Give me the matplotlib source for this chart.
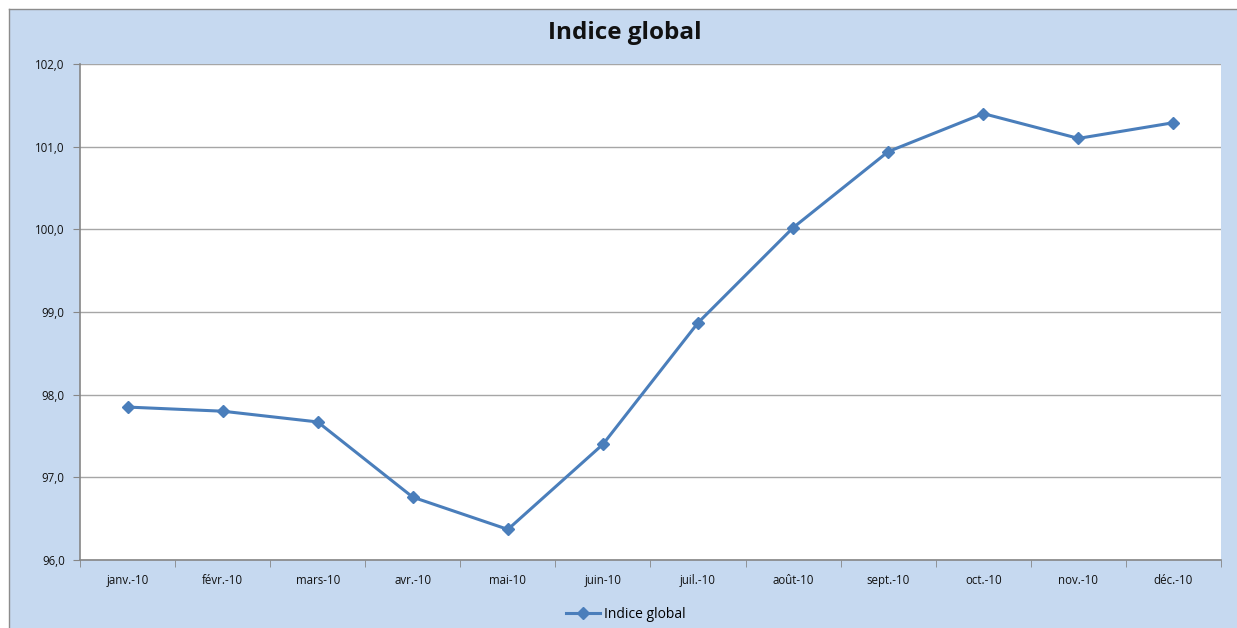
import matplotlib
matplotlib.use("Agg")
import matplotlib.pyplot as plt
from matplotlib.patches import Rectangle
from matplotlib.lines import Line2D
from matplotlib.ticker import FixedLocator, FuncFormatter

months = ["janv.-10", "févr.-10", "mars-10", "avr.-10", "mai-10", "juin-10",
          "juil.-10", "août-10", "sept.-10", "oct.-10", "nov.-10", "déc.-10"]
indice_global = [97.85, 97.80, 97.67, 96.76, 96.37, 97.40,
                 98.87, 100.02, 100.94, 101.40, 101.10, 101.29]
y_ticks = [96.0, 97.0, 98.0, 99.0, 100.0, 101.0, 102.0]

plt.rcParams['font.family'] = ['Open Sans', 'DejaVu Sans']

W, H = 1237, 628
fig = plt.figure(figsize=(W / 100, H / 100), dpi=100, facecolor="white")

bg = "#C6D9F0"
x0, y0 = 8.5 / W, 1 - 8.5 / H
fig.patches.append(Rectangle((x0, 0), 1 - x0, y0, transform=fig.transFigure,
                             facecolor=bg, edgecolor="none", zorder=-10))
fig.lines.append(Line2D([x0, x0], [0, y0], transform=fig.transFigure,
                        color="#8C8C8C", linewidth=1.0, zorder=-9))
fig.lines.append(Line2D([x0, 1], [y0, y0], transform=fig.transFigure,
                        color="#8C8C8C", linewidth=1.0, zorder=-9))

ax = fig.add_axes([80 / W, 1 - 560 / H, (1221 - 80) / W, (560 - 64) / H])
ax.set_zorder(1)
ax.set_facecolor("white")

x = list(range(len(months)))
ax.plot(x, indice_global, color="#4A7EBB", linewidth=2.2, marker="D",
        markersize=6, markerfacecolor="#4A7EBB", markeredgecolor="#4A7EBB",
        label="Indice global", zorder=3)

ax.set_xlim(-0.5, len(months) - 0.5)
ax.set_ylim(96.0, 102.0)
ax.yaxis.set_major_locator(FixedLocator(y_ticks))
ax.yaxis.set_major_formatter(FuncFormatter(lambda v, p: f"{v:.1f}".replace(".", ",")))
ax.grid(axis="y", color="#A6A6A6", linewidth=1.0)
ax.set_axisbelow(True)

# category labels at centres, tick marks at boundaries
ax.set_xticks(x)
ax.set_xticklabels(months, fontsize=8.3, color="#111111")
ax.tick_params(axis="x", which="major", length=0, pad=10)
ax.set_xticks([i - 0.5 for i in range(len(months) + 1)], minor=True)
ax.tick_params(axis="x", which="minor", length=5, color="#868686", direction="out")
ax.tick_params(axis="y", length=5, color="#868686", labelsize=8.3, labelcolor="#111111", pad=6)

for s in ["top", "right"]:
    ax.spines[s].set_visible(False)
for s in ["left", "bottom"]:
    ax.spines[s].set_color("#868686")
    ax.spines[s].set_linewidth(1.2)

fig.text(625 / W, 1 - 33 / H, "Indice global", ha="center", va="center",
         fontsize=17.5, fontweight="bold", color="#111111")

leg = fig.legend(loc="center", bbox_to_anchor=(626 / W, 1 - 614 / H), frameon=False,
                 fontsize=10, handlelength=2.4, handletextpad=0.3)

fig.savefig("out.png", dpi=100, facecolor="white")
